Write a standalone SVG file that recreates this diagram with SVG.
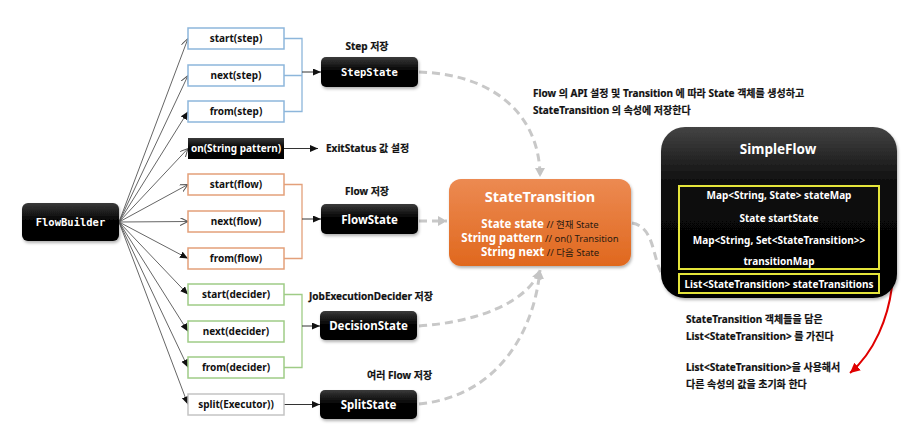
<svg xmlns="http://www.w3.org/2000/svg" width="904" height="425" viewBox="0 0 904 425">
  <defs>
    <linearGradient id="gBlack" x1="0" y1="0" x2="0" y2="1">
      <stop offset="0" stop-color="#3a3a3a"/>
      <stop offset="0.45" stop-color="#050505"/>
      <stop offset="1" stop-color="#000"/>
    </linearGradient>
    <linearGradient id="gOrange" x1="0" y1="0" x2="0" y2="1">
      <stop offset="0" stop-color="#EC8A52"/>
      <stop offset="1" stop-color="#E0681E"/>
    </linearGradient>
    <linearGradient id="gFlow" x1="0" y1="0" x2="0" y2="1">
      <stop offset="0" stop-color="#444"/>
      <stop offset="0.35" stop-color="#0a0a0a"/>
      <stop offset="1" stop-color="#000"/>
    </linearGradient>
    <filter id="shadow" x="-10%" y="-10%" width="125%" height="130%">
      <feDropShadow dx="1" dy="2" stdDeviation="1.5" flood-color="#000" flood-opacity="0.3"/>
    </filter>
    <marker id="aOpen" markerUnits="userSpaceOnUse" markerWidth="10" markerHeight="10" refX="8" refY="4" orient="auto">
      <path d="M0,0 L8,4 L0,8" fill="none" stroke="#555" stroke-width="1"/>
    </marker>
    <marker id="aFill" markerUnits="userSpaceOnUse" markerWidth="10" markerHeight="10" refX="8" refY="3.5" orient="auto">
      <path d="M0,0 L8,3.5 L0,7 z" fill="#111"/>
    </marker>
    <marker id="aDash" markerUnits="userSpaceOnUse" markerWidth="12" markerHeight="12" refX="9" refY="5" orient="auto">
      <path d="M0,0 L9,5 L0,10 z" fill="#c4c4c4"/>
    </marker>
    <marker id="aRed" markerUnits="userSpaceOnUse" markerWidth="14" markerHeight="14" refX="10" refY="5" orient="auto">
      <path d="M0,0 L10,5 L0,10 z" fill="#E00000"/>
    </marker>
  </defs>
  <style>
    text { font-family: "Noto Sans", "Noto Sans CJK KR", sans-serif; font-weight: bold; }
    .mono { font-family: "DejaVu Sans Mono", "Liberation Mono", monospace; }
    .m { font-size: 10px; fill: #111; text-anchor: middle; }
    .lbl { font-size: 10px; fill: #111; stroke: #111; stroke-width: 0.2; }
    .white { fill: #fff; text-anchor: middle; }
    .box { fill: #fff; stroke-width: 1.5; }
    .blue { stroke: #8DB6DB; }
    .orange { stroke: #E3A07A; }
    .green { stroke: #9FCC86; }
    .gray { stroke: #C4C4C4; }
    .fan { stroke: #666; stroke-width: 1; fill: none; }
    .br { fill: none; stroke-width: 1.3; }
    .lead { stroke: #333; stroke-width: 1; fill: none; marker-end: url(#aFill); }
    .dash { fill: none; stroke: #c8c8c8; stroke-width: 3; stroke-dasharray: 8 5; marker-end: url(#aDash); }
    .state { fill: url(#gBlack); filter: url(#shadow); }
    .yb { fill: none; stroke: #E4E43A; stroke-width: 2; }
    .sf { font-size: 10px; fill: #fff; text-anchor: middle; }
    .cm { font-weight: normal; font-size: 9.5px; fill: #2a1a10; }
  </style>

  <!-- connectors -->
  <g id="connectors">
    <!-- fan-out from FlowBuilder -->
    <line class="fan" x1="119" y1="222" x2="188" y2="38.5" marker-end="url(#aOpen)"/>
    <line class="fan" x1="119" y1="222" x2="188" y2="75.5" marker-end="url(#aOpen)"/>
    <line class="fan" x1="119" y1="222" x2="188" y2="111.5" marker-end="url(#aFill)"/>
    <line class="fan" x1="119" y1="222" x2="188" y2="148.5" marker-end="url(#aOpen)"/>
    <line class="fan" x1="119" y1="222" x2="188" y2="184.5" marker-end="url(#aOpen)"/>
    <line class="fan" x1="119" y1="222" x2="188" y2="221.5" marker-end="url(#aOpen)"/>
    <line class="fan" x1="119" y1="222" x2="188" y2="258.5" marker-end="url(#aFill)"/>
    <line class="fan" x1="119" y1="222" x2="188" y2="294.5" marker-end="url(#aFill)"/>
    <line class="fan" x1="119" y1="222" x2="188" y2="331.5" marker-end="url(#aFill)"/>
    <line class="fan" x1="119" y1="222" x2="188" y2="367.5" marker-end="url(#aFill)"/>
    <line class="fan" x1="119" y1="222" x2="188" y2="404.5" marker-end="url(#aFill)"/>

    <!-- brackets to the state boxes -->
    <path class="br blue" d="M284,38.5 H302 V111.5 H284 M284,75.5 H302"/>
    <line class="lead" x1="302" y1="72" x2="321" y2="72"/>
    <path class="br orange" d="M284,184.5 H302 V258.5 H284"/>
    <line class="lead" x1="302" y1="219" x2="321" y2="219"/>
    <path class="br green" d="M284,294.5 H302 V367.5 H284"/>
    <line class="lead" x1="302" y1="326" x2="320" y2="326"/>
    <line class="lead" x1="284" y1="148.5" x2="318" y2="148.5"/>
    <line class="lead" x1="284" y1="404.5" x2="320" y2="404.5"/>

    <!-- states into StateTransition -->
    <path class="dash" d="M419,72 C490,74 540,112 540,177"/>
    <path class="dash" d="M419,221 L447,221"/>
    <path class="dash" d="M419,326 C478,322 528,302 540,270"/>
    <path class="dash" d="M419,404 C498,396 534,332 540,270"/>
    <!-- StateTransition into SimpleFlow -->
    <path class="dash" d="M632,223 C662,228 648,281 677,284"/>

    <!-- red arrow from the map block -->
    <path d="M879,227 C902,236 900,330 850,373" fill="none" stroke="#E00000" stroke-width="2" marker-end="url(#aRed)"/>
  </g>

  <!-- FlowBuilder -->
  <g id="flowBuilder">
    <rect x="22" y="203" width="97" height="38" rx="6" class="state"/>
    <text x="70.5" y="226" class="mono white" font-size="10.5">FlowBuilder</text>
  </g>

  <!-- builder methods -->
  <g id="startStep"><rect x="188" y="28" width="96" height="21" class="box blue"/><text x="236" y="42" class="m">start(step)</text></g>
  <g id="nextStep"><rect x="188" y="65" width="96" height="21" class="box blue"/><text x="236" y="79" class="m">next(step)</text></g>
  <g id="fromStep"><rect x="188" y="101" width="96" height="21" class="box blue"/><text x="236" y="115" class="m">from(step)</text></g>
  <g id="onPattern"><rect x="188" y="138" width="96" height="21" fill="url(#gBlack)"/><text x="236" y="152" class="m" style="fill:#fff">on(String pattern)</text></g>
  <g id="startFlow"><rect x="188" y="174" width="96" height="21" class="box orange"/><text x="236" y="188" class="m">start(flow)</text></g>
  <g id="nextFlow"><rect x="188" y="211" width="96" height="21" class="box orange"/><text x="236" y="225" class="m">next(flow)</text></g>
  <g id="fromFlow"><rect x="188" y="248" width="96" height="21" class="box orange"/><text x="236" y="262" class="m">from(flow)</text></g>
  <g id="startDecider"><rect x="188" y="284" width="96" height="21" class="box green"/><text x="236" y="298" class="m">start(decider)</text></g>
  <g id="nextDecider"><rect x="188" y="321" width="96" height="21" class="box green"/><text x="236" y="335" class="m">next(decider)</text></g>
  <g id="fromDecider"><rect x="188" y="357" width="96" height="21" class="box green"/><text x="236" y="371" class="m">from(decider)</text></g>
  <g id="splitExecutor"><rect x="188" y="394" width="96" height="21" class="box gray"/><text x="236" y="408" class="m">split(Executor))</text></g>

  <!-- ExitStatus note -->
  <g id="exitStatusNote"><text x="326" y="152" class="lbl">ExitStatus 값 설정</text></g>

  <!-- state objects -->
  <g id="stepState">
    <text x="367" y="50" class="lbl" text-anchor="middle">Step 저장</text>
    <rect x="321" y="57" width="97" height="30" rx="5" class="state"/>
    <text x="369.5" y="76" class="mono white" font-size="10.5">StepState</text>
  </g>
  <g id="flowState">
    <text x="367" y="195" class="lbl" text-anchor="middle">Flow 저장</text>
    <rect x="321" y="204" width="97" height="30" rx="5" class="state"/>
    <text x="369.5" y="223.5" class="white" font-size="11.5">FlowState</text>
  </g>
  <g id="decisionState">
    <text x="309" y="300" class="lbl">JobExecutionDecider 저장</text>
    <rect x="320" y="311" width="97" height="29" rx="5" class="state"/>
    <text x="368.5" y="330" class="white" font-size="11.5">DecisionState</text>
  </g>
  <g id="splitState">
    <text x="367" y="379" class="lbl">여러 Flow 저장</text>
    <rect x="320" y="390" width="97" height="29" rx="5" class="state"/>
    <text x="368.5" y="409" class="white" font-size="11.5">SplitState</text>
  </g>

  <!-- StateTransition -->
  <g id="stateTransition">
    <text x="533" y="97" class="lbl">Flow 의 API 설정 및 Transition 에 따라 State 객체를 생성하고</text>
    <text x="533" y="114" class="lbl">StateTransition 의 속성에 저장한다</text>
    <rect x="449" y="179" width="182" height="87" rx="12" fill="url(#gOrange)" filter="url(#shadow)"/>
    <text x="540" y="202" class="white" font-size="14.5">StateTransition</text>
    <text x="540" y="228" class="white" font-size="11.5">State state<tspan class="cm"> // 현재 State</tspan></text>
    <text x="540" y="242" class="white" font-size="11.5">String pattern<tspan class="cm"> // on() Transition</tspan></text>
    <text x="540" y="256" class="white" font-size="11.5">String next<tspan class="cm"> // 다음 State</tspan></text>
  </g>

  <!-- SimpleFlow -->
  <g id="simpleFlow">
    <rect x="661" y="127" width="236" height="171" rx="24" fill="url(#gFlow)" filter="url(#shadow)"/>
    <text x="778" y="154" class="white" font-size="13.5">SimpleFlow</text>
    <rect x="679" y="186" width="200" height="83" class="yb"/>
    <rect x="679" y="274" width="200" height="19" class="yb"/>
    <text x="779" y="198.5" class="sf">Map&lt;String, State&gt; stateMap</text>
    <text x="779" y="221.5" class="sf">State startState</text>
    <text x="779" y="244" class="sf">Map&lt;String, Set&lt;StateTransition&gt;&gt;</text>
    <text x="779" y="264.5" class="sf">transitionMap</text>
    <text x="779" y="287.5" class="sf">List&lt;StateTransition&gt; stateTransitions</text>
  </g>

  <!-- notes under SimpleFlow -->
  <g id="simpleFlowNotes">
    <text x="686" y="322.5" class="lbl">StateTransition 객체들을 담은</text>
    <text x="686" y="340" class="lbl">List&lt;StateTransition&gt; 를 가진다</text>
    <text x="686" y="370.5" class="lbl">List&lt;StateTransition&gt;을 사용해서</text>
    <text x="686" y="387.5" class="lbl">다른 속성의 값을 초기화 한다</text>
  </g>
</svg>
